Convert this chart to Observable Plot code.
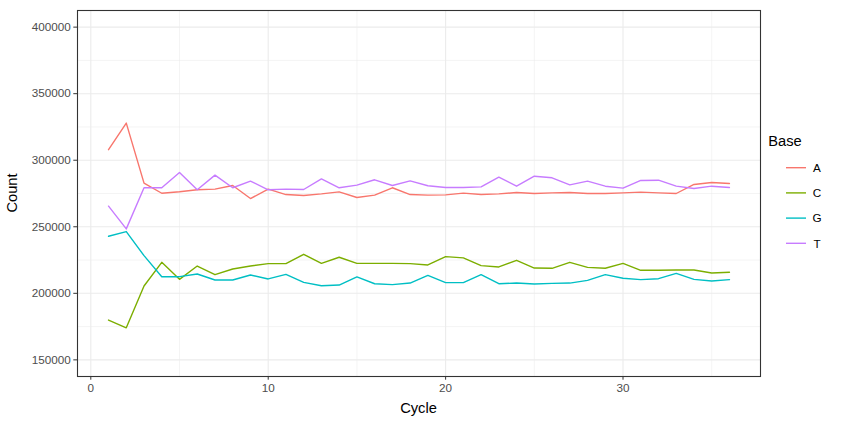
<!DOCTYPE html>
<html>
<head>
<meta charset="utf-8">
<script src="https://cdn.jsdelivr.net/npm/d3@7"></script>
<script src="https://cdn.jsdelivr.net/npm/@observablehq/plot@0.6"></script>
<style>
  html, body { margin: 0; padding: 0; background: white; }
  #chart svg { display: block; }
</style>
</head>
<body>
<div id="chart"></div>
<script>
const cycles = d3.range(1, 37);
const bases = ["A", "C", "G", "T"];
const baseColors = ["#F8766D", "#7CAE00", "#00BFC4", "#C77CFF"];

const countA = [307900, 327900, 282800, 275200, 276300, 277800, 278300, 281000, 271200, 278300, 274200, 273500,
  274700, 276250, 272000, 273750, 279300, 274200, 273750, 274000, 275250, 274200, 274700, 275750,
  275000, 275500, 275750, 275000, 275000, 275500, 276000, 275500, 275000, 281800, 283300, 282500];
const countC = [179900, 174100, 205500, 223300, 210500, 220500, 214000, 218300, 220500, 222300, 222300, 229300,
  222500, 227100, 222500, 222500, 222500, 222300, 221300, 227600, 226600, 220800, 219800, 224800,
  219000, 218800, 223300, 219500, 218800, 222500, 217300, 217300, 217500, 217500, 215300, 215800];
const countG = [242900, 246400, 228300, 212500, 212500, 214500, 210000, 210000, 213800, 210800, 214200, 208200,
  205700, 206200, 212300, 207200, 206500, 207700, 213500, 208000, 208000, 214000, 207200, 207700,
  207000, 207500, 207700, 209700, 214000, 211300, 210300, 211000, 215000, 210500, 209300, 210300];
const countT = [265500, 248400, 279300, 279300, 290800, 277800, 288800, 279300, 284300, 277800, 278300, 278000,
  286000, 279300, 281300, 285300, 281000, 284500, 280800, 279500, 279500, 280000, 287300, 280500,
  288000, 286800, 281500, 284300, 280500, 279000, 284800, 285000, 280500, 278800, 280500, 279500];

const xMajor = [0, 10, 20, 30];
const xMinor = [5, 15, 25, 35];
const yMajor = [150000, 200000, 250000, 300000, 350000, 400000];
const yMinor = [175000, 225000, 275000, 325000, 375000];

const series = [countA, countC, countG, countT];
const data = bases.flatMap((b, i) => series[i].map((v, j) => ({Cycle: cycles[j], Count: v, Base: b})));

const W = 857, H = 426;
const mL = 77, mR = 97, mT = 10, mB = 50;

const chart = Plot.plot({
  width: W, height: H,
  marginLeft: mL, marginRight: mR, marginTop: mT, marginBottom: mB,
  style: {fontFamily: "'Liberation Sans', Arial, Helvetica, sans-serif", background: "white"},
  x: {domain: [-0.75, 37.75], label: null},
  y: {domain: [137500, 412500], label: null},
  color: {domain: bases, range: baseColors},
  marks: [
    Plot.gridX(xMinor, {stroke: "#EBEBEB", strokeOpacity: 1, strokeWidth: 0.55}),
    Plot.gridY(yMinor, {stroke: "#EBEBEB", strokeOpacity: 1, strokeWidth: 0.55}),
    Plot.gridX(xMajor, {stroke: "#EBEBEB", strokeOpacity: 1, strokeWidth: 1.1}),
    Plot.gridY(yMajor, {stroke: "#EBEBEB", strokeOpacity: 1, strokeWidth: 1.1}),
    Plot.line(data, {x: "Cycle", y: "Count", z: "Base", stroke: "Base", strokeWidth: 1.4}),
    Plot.frame({stroke: "#333333", strokeWidth: 1.1}),
    Plot.axisX(xMajor, {tickSize: 3.7, tickPadding: 3, stroke: "#333333", fill: "#4D4D4D", fontSize: 11.7, label: null}),
    Plot.axisY(yMajor, {tickSize: 3.7, tickPadding: 3, stroke: "#333333", fill: "#4D4D4D", fontSize: 11.7, label: null, tickFormat: "d"})
  ]
});

document.getElementById("chart").appendChild(chart);

const svg = d3.select(chart);
const font = "'Liberation Sans', Arial, Helvetica, sans-serif";

// axis titles
svg.append("text")
  .attr("x", (mL + (W - mR)) / 2).attr("y", 413)
  .attr("text-anchor", "middle")
  .attr("font-family", font).attr("font-size", 14.7).attr("fill", "black")
  .text("Cycle");
svg.append("text")
  .attr("transform", `translate(17, ${(mT + (H - mB)) / 2}) rotate(-90)`)
  .attr("text-anchor", "middle")
  .attr("font-family", font).attr("font-size", 14.7).attr("fill", "black")
  .text("Count");

// legend
const lg = svg.append("g");
lg.append("text")
  .attr("x", 785).attr("y", 146)
  .attr("font-family", font).attr("font-size", 14.7).attr("fill", "black")
  .text("Base");
bases.forEach((b, i) => {
  const cy = 167.7 + i * 25.2;
  lg.append("line")
    .attr("x1", 786).attr("x2", 806).attr("y1", cy).attr("y2", cy)
    .attr("stroke", baseColors[i]).attr("stroke-width", 1.4);
  lg.append("text")
    .attr("x", 817).attr("y", cy).attr("dy", "0.36em")
    .attr("font-family", font).attr("font-size", 11.7).attr("fill", "black")
    .text(b);
});
</script>
</body>
</html>
